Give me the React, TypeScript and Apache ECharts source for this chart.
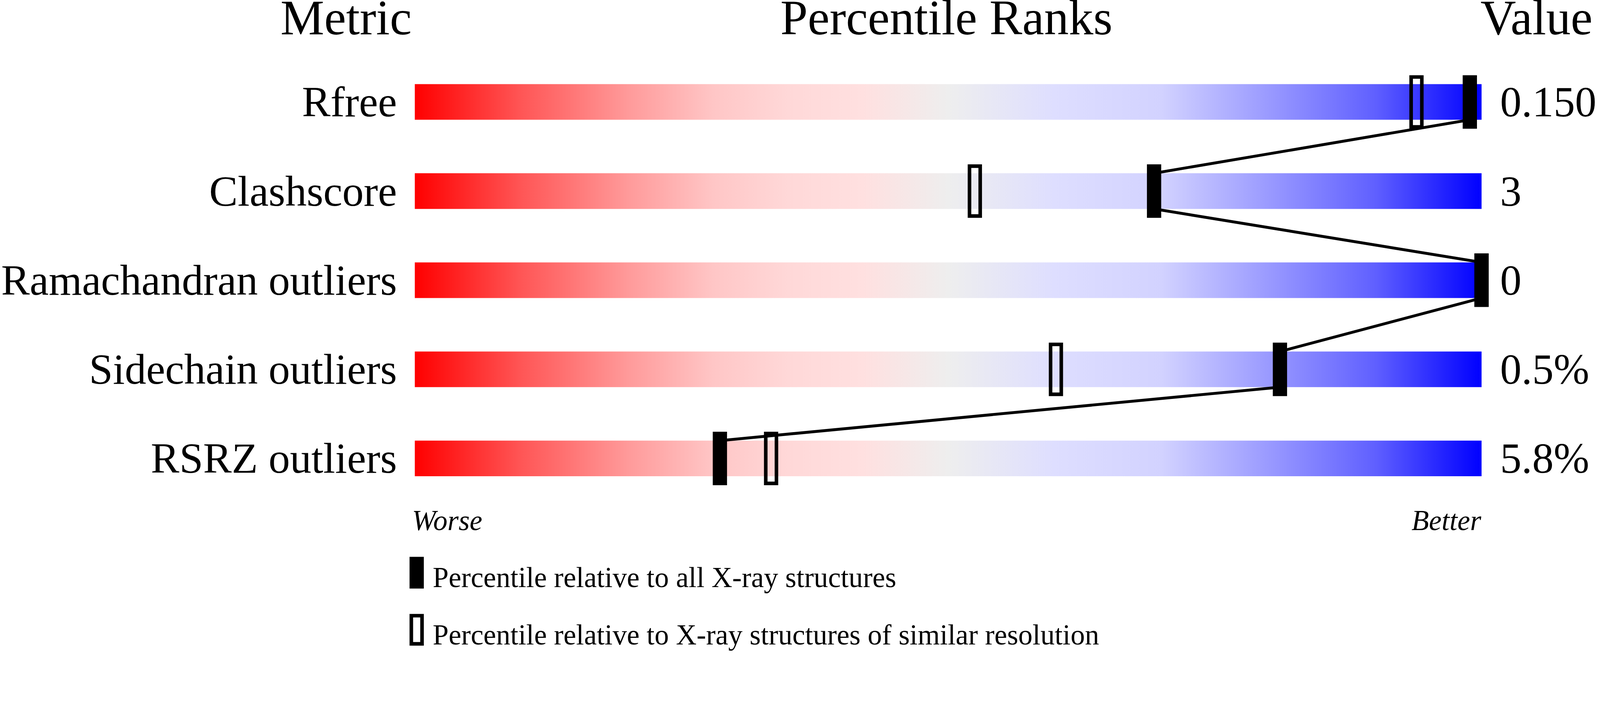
import { useEffect, useRef } from 'react'
import * as echarts from 'echarts'

const FONT = '"Liberation Serif", "Times New Roman", serif'

const metrics = ['Rfree', 'Clashscore', 'Ramachandran outliers', 'Sidechain outliers', 'RSRZ outliers']
const values = ['0.150', '3', '0', '0.5%', '5.8%']
// percentile relative to all X-ray structures (filled marker)
const pctAll = [98.9, 69.3, 100, 81.1, 28.6]
// percentile relative to structures of similar resolution (open marker)
const pctSimilar = [93.9, 52.5, 100, 60.1, 33.4]
const legendTexts = ['Percentile relative to all X-ray structures', 'Percentile relative to X-ray structures of similar resolution']

const gradStops = [
  { offset: 0, color: '#FF0000' }, { offset: 0.1, color: '#FF5656' }, { offset: 0.2, color: '#FF9A9A' },
  { offset: 0.28, color: '#FFC6C6' }, { offset: 0.35, color: '#FFD8D8' }, { offset: 0.42, color: '#FFE0E0' },
  { offset: 0.5, color: '#EEEEEE' }, { offset: 0.6, color: '#DEDEFF' }, { offset: 0.7, color: '#D2D2FF' },
  { offset: 0.8, color: '#9A9AFF' }, { offset: 0.9, color: '#6060FF' }, { offset: 1, color: '#0000FF' },
]

export default function App() {
  const ref = useRef<HTMLDivElement>(null)

  useEffect(() => {
    if (!ref.current) return
    const chart = echarts.init(ref.current, undefined, { renderer: 'svg' })
    // layout below is measured on the 4485px-wide reference; scale to the real viewport
    const s = chart.getWidth() / 4485
    const k = (v: number) => v * s
    const BAR = 0.4, MARK = 0.6

    const markerItem = (filled: boolean) => (_p: any, api: any) => {
      const c = api.coord([api.value(0), api.value(1)])
      const band = api.size([0, 1])[1]
      const h = band * MARK, w = k(40), sw = k(10)
      if (filled) return { type: 'rect', shape: { x: c[0] - w / 2, y: c[1] - h / 2, width: w, height: h }, style: { fill: '#000' } }
      return { type: 'rect', shape: { x: c[0] - w / 2 + sw / 2, y: c[1] - h / 2 + sw / 2, width: w - sw, height: h - sw }, style: { fill: 'none', stroke: '#000', lineWidth: sw } }
    }

    const links = pctAll.slice(0, -1).map((p, i) => [p, i, pctAll[i + 1], i + 1])
    const txt = (text: string, x: number, y: number, size: number, align: string, italic = false) => ({
      type: 'text', x: k(x), y: k(y),
      style: { text, font: `${italic ? 'italic ' : ''}${k(size)}px ${FONT}`, fill: '#000', align, verticalAlign: 'middle', lineHeight: k(size * 0.66) },
    })

    chart.setOption({
      animation: false,
      grid: { left: k(1153), width: k(3000), top: k(161), height: k(1250), containLabel: false },
      xAxis: { type: 'value', min: 0, max: 100, show: false },
      yAxis: [
        { type: 'category', inverse: true, data: metrics, axisLine: { show: false }, axisTick: { show: false }, splitLine: { show: false },
          axisLabel: { fontFamily: FONT, fontSize: k(120), color: '#000', margin: k(50), padding: [k(18), 0, 0, 0] } },
        { type: 'category', inverse: true, position: 'right', data: values, axisLine: { show: false }, axisTick: { show: false }, splitLine: { show: false },
          axisLabel: { fontFamily: FONT, fontSize: k(120), color: '#000', margin: k(52), padding: [k(18), 0, 0, 0] } },
      ],
      series: [
        { type: 'bar', yAxisIndex: 0, data: metrics.map(() => 100), barWidth: k(100), silent: true, z: 1,
          itemStyle: { color: new echarts.graphic.LinearGradient(0, 0, 1, 0, gradStops) } },
        { type: 'custom', yAxisIndex: 0, data: links, z: 2, silent: true, encode: { x: [0, 2], y: [1, 3] },
          renderItem: (_p: any, api: any) => {
            const a = api.coord([api.value(0), api.value(1)])
            const b = api.coord([api.value(2), api.value(3)])
            const half = api.size([0, 1])[1] * BAR / 2
            return { type: 'line', shape: { x1: a[0], y1: a[1] + half, x2: b[0], y2: b[1] - half }, style: { stroke: '#000', lineWidth: k(8) } }
          } },
        { type: 'custom', yAxisIndex: 0, data: pctSimilar.map((p, i) => [p, i]), z: 3, silent: true, renderItem: markerItem(false) },
        { type: 'custom', yAxisIndex: 0, data: pctAll.map((p, i) => [p, i]), z: 4, silent: true, renderItem: markerItem(true) },
      ],
      graphic: [
        txt('Metric', 970, 50, 138, 'center'),
        txt('Percentile Ranks', 2653, 50, 138, 'center'),
        txt('Value', 4150, 50, 138, 'left'),
        txt('Worse', 1155, 1460, 80, 'left', true),
        txt('Better', 4152, 1460, 80, 'right', true),
        { type: 'rect', shape: { x: k(1148), y: k(1562), width: k(40), height: k(89) }, style: { fill: '#000' } },
        { type: 'rect', shape: { x: k(1153), y: k(1727), width: k(30), height: k(79) }, style: { fill: 'none', stroke: '#000', lineWidth: k(10) } },
        txt(legendTexts[0], 1213, 1620, 80, 'left'),
        txt(legendTexts[1], 1213, 1781, 80, 'left'),
      ],
    })
    return () => chart.dispose()
  }, [])

  return <div ref={ref} style={{ position: 'absolute', left: 0, top: 0, width: '100vw', height: '100vh', background: '#fff' }} />
}
